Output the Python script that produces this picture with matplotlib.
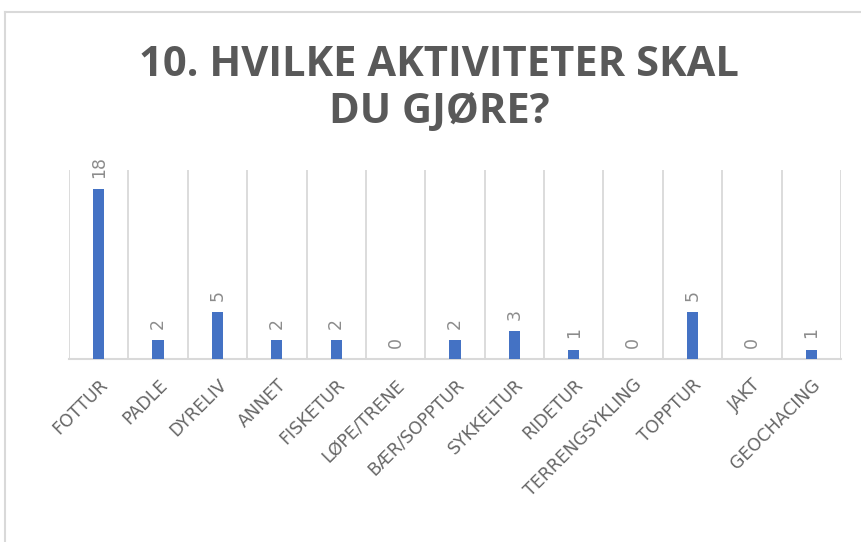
import matplotlib
matplotlib.use("Agg")
import matplotlib.pyplot as plt
from matplotlib.lines import Line2D

categories = ["FOTTUR", "PADLE", "DYRELIV", "ANNET", "FISKETUR", "LØPE/TRENE",
              "BÆR/SOPPTUR", "SYKKELTUR", "RIDETUR", "TERRENGSYKLING", "TOPPTUR",
              "JAKT", "GEOCHACING"]
values = [18, 2, 5, 2, 2, 0, 2, 3, 1, 0, 5, 0, 1]
title_text = "10. HVILKE AKTIVITETER SKAL\nDU GJØRE?"

W, H = 862, 542
fig = plt.figure(figsize=(W / 100, H / 100), dpi=100)
fig.patch.set_facecolor("white")

# plot area in pixels
x0, x1 = 69, 841
ytop, ybase = 170, 359
ax = fig.add_axes([x0 / W, 1 - ybase / H, (x1 - x0) / W, (ybase - ytop) / H])

n = len(categories)
xs = list(range(n))
ax.bar(xs, values, width=0.19, color="#4472C4", zorder=3)
ax.set_xlim(-0.5, n - 0.5)
ax.set_ylim(0, 20)

# vertical gridlines at category boundaries
for b in range(n + 1):
    ax.axvline(b - 0.5, color="#d9d9d9", lw=1.3, zorder=1)
for s in ["top", "right", "left"]:
    ax.spines[s].set_visible(False)
ax.spines["bottom"].set_color("#d9d9d9")
ax.spines["bottom"].set_linewidth(1.5)
ax.set_yticks([])
ax.set_xticks(xs)
ax.set_xticklabels(categories, rotation=45, ha="right", rotation_mode="anchor",
                   fontsize=12.5, color="#666666", family="DejaVu Sans")
ax.tick_params(axis="x", length=0, pad=12)

for x, v in zip(xs, values):
    ax.annotate(str(v), (x, v), xytext=(0, 8), textcoords="offset points",
                rotation=90, ha="center", va="bottom", fontsize=12.5,
                color="#8c8c8c", family="DejaVu Sans")

fig.text(439 / W, 1 - 89 / H, title_text, ha="center", va="center",
         fontsize=30, fontweight="bold", color="#595959", family="Open Sans",
         linespacing=1.2)

# chart border (left and top visible)
fig.add_artist(Line2D([5 / W, 5 / W], [0, 1 - 12 / H], transform=fig.transFigure,
                      color="#d9d9d9", lw=1.5))
fig.add_artist(Line2D([5 / W, 1], [1 - 12 / H, 1 - 12 / H], transform=fig.transFigure,
                      color="#d9d9d9", lw=1.5))

fig.savefig("out.png", dpi=100)
